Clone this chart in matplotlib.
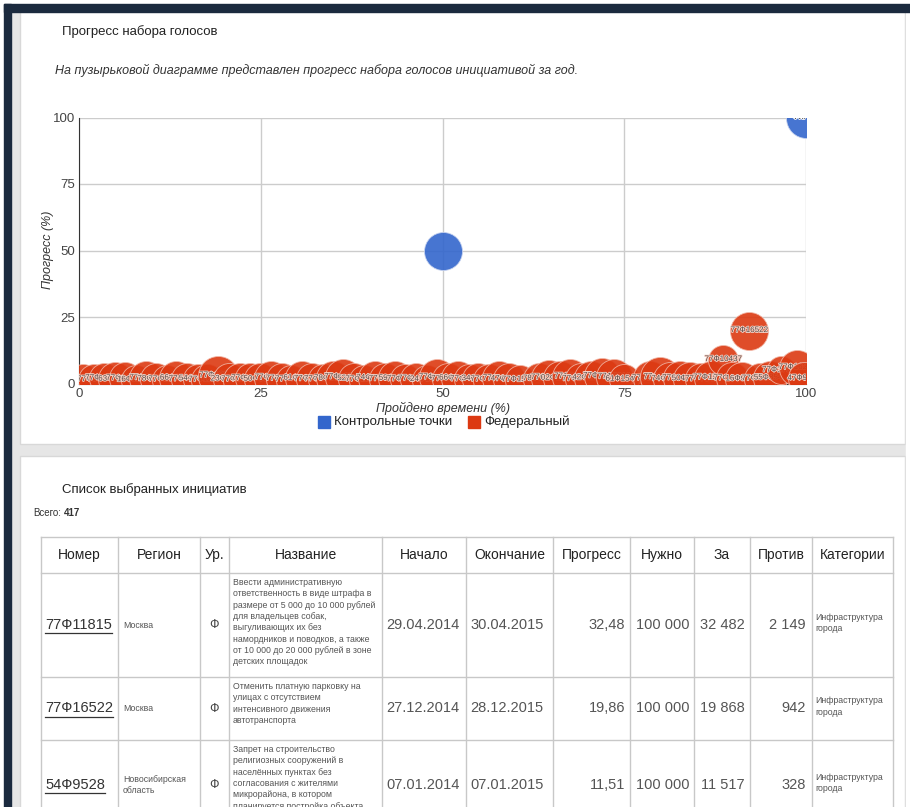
import matplotlib
matplotlib.use('Agg')
import matplotlib.pyplot as plt
import matplotlib.patheffects as pe
from matplotlib.patches import Rectangle

plt.rcParams['font.family'] = ['Liberation Sans', 'DejaVu Sans']

# --- bubble chart data: x = time passed (%), y = progress (%), r = bubble radius (px)
red_x = [0.6, 2.0, 3.4, 4.9, 6.3, 7.8, 9.2, 10.6, 12.1, 13.4,
         14.9, 16.3, 17.6, 19.1, 20.7, 22.1, 23.5, 24.9, 26.4, 27.9,
         29.2, 30.7, 32.1, 33.5, 34.9, 36.3, 37.8, 39.2, 40.7, 42.1,
         43.5, 44.9, 46.4, 47.8, 49.3, 50.7, 52.1, 53.6, 54.9, 56.4,
         57.8, 59.2, 60.7, 63.3, 64.7, 66.1, 67.6, 69.0, 70.4, 71.9,
         73.6, 75.0, 78.6, 79.9, 81.3, 82.7, 84.1, 85.6, 87.0, 88.6,
         89.8, 91.2, 92.2, 93.7, 95.1, 96.5, 98.8, 99.7]
red_y = [1.8, 1.5, 2.0, 1.6, 1.9, 1.4, 2.1, 1.7, 1.5, 2.0,
         1.6, 1.8, 1.4, 3.0, 1.7, 1.5, 1.9, 1.6, 2.2, 1.8,
         1.5, 2.0, 1.7, 1.6, 1.9, 2.4, 1.8, 1.5, 2.1, 1.7,
         1.9, 1.6, 1.8, 1.5, 2.3, 1.7, 2.0, 1.6, 1.8, 1.5,
         1.9, 1.7, 1.4, 1.8, 2.2, 2.0, 2.6, 1.7, 2.1, 2.8,
         2.5, 1.6, 1.9, 2.4, 1.7, 2.0, 1.8, 1.6, 2.2, 9.0,
         1.9, 1.7, 19.9, 1.8, 2.1, 5.0, 6.0, 1.9]
red_r = [15, 16, 15, 17, 16, 15, 17, 16, 15, 17,
         16, 15, 16, 20, 16, 17, 15, 16, 17, 16,
         15, 17, 16, 15, 17, 18, 16, 15, 17, 16,
         17, 15, 16, 15, 18, 16, 17, 15, 16, 16,
         17, 16, 15, 16, 18, 17, 18, 16, 17, 18,
         18, 15, 17, 20, 17, 17, 17, 16, 17, 15,
         16, 17, 19, 16, 17, 14, 18, 16]
red_labels = ["50Ф2336", "77Ф9165", "77Ф17703", "63Ф3207", "77Ф18732", "16Ф12151", "77Ф4181", "78Ф10225", "77Ф13601", "66Ф8205",
              "77Ф18332", "54Ф18727", "77Ф12918", "77Ф13918", "23Ф16451", "77Ф16053", "77Ф16019", "50Ф8515", "77Ф3809", "77Ф7917",
              "77Ф7978", "61Ф14434", "77Ф18671", "77Ф12613", "78Ф18214", "77Ф10515", "52Ф9318", "77Ф18028", "74Ф12470", "77Ф4965",
              "59Ф5698", "77Ф16347", "77Ф11204", "24Ф3152", "77Ф15571", "77Ф8263", "66Ф10748", "77Ф17325", "34Ф6619", "77Ф14082",
              "77Ф9931", "47Ф12806", "77Ф15137", "78Ф7744", "77Ф10389", "02Ф13526", "77Ф6051", "77Ф17480", "42Ф11963", "77Ф13295",
              "77Ф8816", "61Ф15402", "77Ф12057", "77Ф9674", "74Ф14713", "77Ф11128", "50Ф16895", "77Ф7342", "77Ф15960", "77Ф10437",
              "77Ф18119", "16Ф9286", "77Ф16522", "77Ф13774", "55Ф8541", "77Ф17045", "77Ф16235", "47Ф9017"]

ctrl_x = [50, 100]
ctrl_y = [50, 100]
ctrl_r = [19, 20]
ctrl_labels = ["", "Финиш"]

ticks = [0, 25, 50, 75, 100]
series_names = ["Контрольные точки", "Федеральный"]

# --- table data
headers = ["Номер", "Регион", "Ур.", "Название", "Начало", "Окончание",
           "Прогресс", "Нужно", "За", "Против", "Категории"]
numbers = ["77Ф11815", "77Ф16522", "54Ф9528"]
regions = ["Москва", "Москва", "Новосибирская\nобласть"]
levels = ["Ф", "Ф", "Ф"]
titles = ["Ввести административную\nответственность в виде штрафа в\n"
          "размере от 5 000 до 10 000 рублей\nдля владельцев собак,\n"
          "выгуливающих их без\nнамордников и поводков, а также\n"
          "от 10 000 до 20 000 рублей в зоне\nдетских площадок",
          "Отменить платную парковку на\nулицах с отсутствием\n"
          "интенсивного движения\nавтотранспорта",
          "Запрет на строительство\nрелигиозных сооружений в\n"
          "населённых пунктах без\nсогласования с жителями\n"
          "микрорайона, в котором\nпланируется постройка объекта"]
starts = ["29.04.2014", "27.12.2014", "07.01.2014"]
ends = ["30.04.2015", "28.12.2015", "07.01.2015"]
progress = ["32,48", "19,86", "11,51"]
needed = ["100 000", "100 000", "100 000"]
votes_for = ["32 482", "19 868", "11 517"]
votes_against = ["2 149", "942", "328"]
categories = ["Инфраструктура\nгорода", "Инфраструктура\nгорода", "Инфраструктура\nгорода"]
total = "417"

RED = '#dc3912'
BLUE = '#3366cc'

W, H = 910, 807
fig = plt.figure(figsize=(W / 100, H / 100), dpi=100)

# page layer in pixel coordinates
bg = fig.add_axes([0, 0, 1, 1])
bg.set_xlim(0, W)
bg.set_ylim(H, 0)
bg.axis('off')
bg.add_patch(Rectangle((10, 11), W, H, color='#e6e6e6', zorder=0))
bg.add_patch(Rectangle((20, 11), 885, 433, facecolor='white', edgecolor='#d8d8d8', lw=1, zorder=0.5))
bg.add_patch(Rectangle((20, 456), 885, H, facecolor='white', edgecolor='#d8d8d8', lw=1, zorder=0.5))
bg.add_patch(Rectangle((905.5, 11), 10, H, color='white', zorder=0.6))
bg.add_patch(Rectangle((4, 4), W, 8, color='#1b2a3e', zorder=1))
bg.add_patch(Rectangle((4, 4), 7, H, color='#1b2a3e', zorder=1))

bg.text(62, 32, "Прогресс набора голосов", fontsize=9.5, color='#222', va='center')
bg.text(55, 70, "На пузырьковой диаграмме представлен прогресс набора голосов инициативой за год.",
        fontsize=9, style='italic', color='#333', va='center')

# --- bubble chart
ax = fig.add_axes([79 / W, 1 - 383.5 / H, (806 - 79) / W, (383.5 - 117.5) / H])
ax.set_xlim(0, 100)
ax.set_ylim(0, 100)
ax.set_xticks(ticks)
ax.set_yticks(ticks)
ax.grid(True, color='#cccccc', lw=1)
ax.set_axisbelow(True)
for s in ['top', 'right']:
    ax.spines[s].set_visible(False)
ax.spines['left'].set_color('#333333')
ax.spines['bottom'].set_color('#333333')
ax.tick_params(length=0, pad=3, labelsize=9.5, labelcolor='#444444')
ax.patch.set_alpha(0)

halo = [pe.withStroke(linewidth=1.2, foreground='#f4d0c4')]
z = 3
for x, y, r, lab in zip(ctrl_x, ctrl_y, ctrl_r, ctrl_labels):
    ax.scatter(x, y, s=(1.44 * r) ** 2, color=BLUE, alpha=0.9, edgecolors='#c8d4f0',
               linewidths=0.6, zorder=z)
    ax.text(x, y, lab, fontsize=6, color='#333', ha='center', va='center', zorder=z + 1,
            clip_on=True, path_effects=[pe.withStroke(linewidth=1.2, foreground='white')])
    z += 2
for x, y, r, lab in zip(red_x, red_y, red_r, red_labels):
    ax.scatter(x, y, s=(1.44 * r) ** 2, color=RED, alpha=0.9, edgecolors='#f2b8a8',
               linewidths=0.6, zorder=z)
    ax.text(x, y, lab, fontsize=5.8, color='#5a4a46', ha='center', va='center', zorder=z + 1,
            clip_on=True, path_effects=halo)
    z += 2

bg.text(48, 250, "Прогресс (%)", rotation=90, fontsize=9, style='italic', color='#333',
        ha='center', va='center')
bg.text(443, 408, "Пройдено времени (%)", fontsize=9, style='italic', color='#333',
        ha='center', va='center')

# legend
for (lx, name, col) in [(318, series_names[0], BLUE), (468, series_names[1], RED)]:
    bg.add_patch(Rectangle((lx, 416), 12, 12, color=col, zorder=2))
    bg.text(lx + 16, 422, name, fontsize=9.5, color='#222', va='center')

# --- table panel
bg.text(62, 490, "Список выбранных инициатив", fontsize=9.5, color='#222', va='center')
lbl_total = bg.text(33, 513, "Всего:", fontsize=7, color='#333', va='center')

cols = [41, 118, 200, 229, 382, 466, 553, 630, 694, 750, 812, 893]
row_lines = [537, 573, 677, 740]
row_tops = [573, 677, 740]
row_bots = [677, 740, 830]

for yl in row_lines:
    bg.plot([cols[0], cols[-1]], [yl, yl], color='#c8c8c8', lw=1, zorder=2)
for xl in cols:
    bg.plot([xl, xl], [537, H + 5], color='#c8c8c8', lw=1, zorder=2)

for i, h in enumerate(headers):
    bg.text((cols[i] + cols[i + 1]) / 2, 555, h, fontsize=10, color='#222',
            ha='center', va='center', zorder=3)

num_texts = []
for i in range(len(numbers)):
    top, bot = row_tops[i], row_bots[i]
    cy = (top + bot) / 2
    t = bg.text(45, cy, numbers[i], fontsize=10.5, color='#333', va='center', zorder=3)
    num_texts.append((t, cy))
    bg.text(123, cy, regions[i], fontsize=6.3, color='#555', va='center', linespacing=1.3)
    bg.text((cols[2] + cols[3]) / 2, cy, levels[i], fontsize=9, color='#444', ha='center', va='center')
    bg.text(233, top + 5, titles[i], fontsize=6.3, color='#555', va='top', linespacing=1.33)
    bg.text(386, cy, starts[i], fontsize=10.5, color='#555', va='center')
    bg.text(470, cy, ends[i], fontsize=10.5, color='#555', va='center')
    bg.text(625, cy, progress[i], fontsize=10.5, color='#555', ha='right', va='center')
    bg.text(689, cy, needed[i], fontsize=10.5, color='#555', ha='right', va='center')
    bg.text(745, cy, votes_for[i], fontsize=10.5, color='#555', ha='right', va='center')
    bg.text(806, cy, votes_against[i], fontsize=10.5, color='#555', ha='right', va='center')
    bg.text(815, cy - 2, categories[i], fontsize=6.3, color='#555', va='center', linespacing=1.3)

# underline the initiative numbers (links), place the bold total after its label
fig.canvas.draw()
inv = bg.transData.inverted()
for t, cy in num_texts:
    bb = t.get_window_extent()
    x0, _ = inv.transform((bb.x0, bb.y0))
    x1, _ = inv.transform((bb.x1, bb.y0))
    bg.plot([x0, x1], [cy + 8, cy + 8], color='#333', lw=0.9, zorder=3)
bb = lbl_total.get_window_extent()
xe, _ = inv.transform((bb.x1, bb.y0))
bg.text(xe + 3, 513, total, fontsize=7, color='#333', va='center', weight='bold')

fig.savefig('out.png', dpi=100)
